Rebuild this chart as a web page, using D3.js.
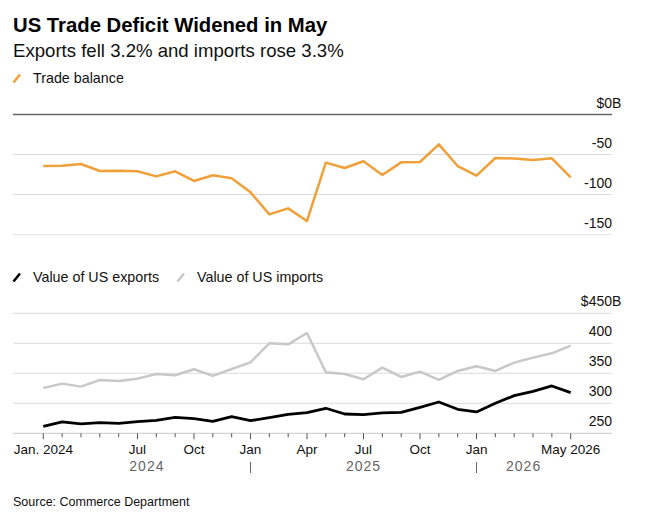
<!DOCTYPE html>
<html>
<head>
<meta charset="utf-8">
<script src="https://cdn.jsdelivr.net/npm/d3@7"></script>
<style>
  body { margin: 0; background: #fff; }
  svg { display: block; font-family: "Liberation Sans", Arial, sans-serif; }
  .tick-label { font-size: 14px; fill: #111; }
  .month { font-size: 13.5px; fill: #111; }
  .year { font-size: 14px; fill: #666; letter-spacing: 1px; }
</style>
</head>
<body>
<div id="chart"></div>
<script>
// month slots, Jan. 2024 .. May 2026 (29 points)
var monthLabels = ["Jan. 2024", "", "", "", "", "Jul", "", "", "Oct", "", "", "Jan",
    "", "", "Apr", "", "", "Jul", "", "", "Oct", "", "", "Jan", "", "", "", "", "May 2026"]
var majorTicks = [0, 5, 8, 11, 14, 17, 20, 23, 28]
var yearLabels = ["2024", "2025", "2026"]
var yearBreaks = [0, 11, 23, 28]

var tradeBalance = [-64.4, -64, -61.9, -70.6, -70.4, -71, -77.3, -71, -83.1, -76, -79.8, -97.3,
    -124.8, -117.3, -133.1, -60.2, -66.9, -58.5, -75.6, -59.8, -59.4, -37.3, -64.4, -76.5,
    -54.4, -55, -56.9, -54.8, -78.5]
var exportsVal = [261.7, 268.9, 265.6, 267.8, 266.7, 269.4, 271.7, 276.7, 274.4, 270, 277.8, 271.1,
    276.1, 281.7, 284.4, 291.7, 282.2, 281.1, 283.9, 285, 293.3, 302.2, 290, 285.6,
    300, 312.8, 320, 328.9, 317.8]
var importsVal = [325.6, 332.8, 327.8, 338.9, 337.2, 341.1, 348.9, 346.7, 356.7, 345.6, 357.2, 368.3,
    400, 398.3, 417.2, 351.7, 348.9, 340, 359.4, 343.9, 352.8, 338.9, 353.9, 361.7,
    353.9, 367.8, 376.1, 383.3, 396.1]

var balanceTicks = [0, -50, -100, -150]
var valueTicks = [450, 400, 350, 300, 250]

var ORANGE = "#f0a038", GRAY_LINE = "#c8c8c8", GRID = "#dcdcdc"
var width = 649, height = 518
var left = 13, right = 612

var svg = d3.select("#chart").append("svg")
    .attr("width", width)
    .attr("height", height)

// header
svg.append("text").attr("x", 13).attr("y", 32)
    .style("font-size", "20.3px").style("font-weight", "bold").style("fill", "#000")
    .text("US Trade Deficit Widened in May")
svg.append("text").attr("x", 13).attr("y", 57)
    .style("font-size", "18.6px").style("fill", "#111")
    .text("Exports fell 3.2% and imports rose 3.3%")

function legendItem(x, y, color, label) {
    svg.append("line")
        .attr("x1", x).attr("y1", y)
        .attr("x2", x + 6.5).attr("y2", y - 8)
        .attr("stroke", color).attr("stroke-width", 2.5)
    svg.append("text").attr("x", x + 19.5).attr("y", y)
        .style("font-size", "14.3px").style("fill", "#111")
        .text(label)
}
legendItem(13.5, 82.5, ORANGE, "Trade balance")
legendItem(13.5, 281.5, "#000", "Value of US exports")
legendItem(177.5, 281.5, GRAY_LINE, "Value of US imports")

var x = d3.scalePoint()
    .domain(d3.range(monthLabels.length))
    .range([43.3, 570.7])

// unit label: number right-aligned, "B" hanging past the grid
function valueLabel(y, value, withUnit) {
    var t = svg.append("text").attr("class", "tick-label")
        .attr("x", right).attr("y", y)
        .style("text-anchor", "end")
        .text(withUnit ? "$" + value : value)
    if (withUnit) {
        svg.append("text").attr("class", "tick-label")
            .attr("x", right).attr("y", y)
            .text("B")
    }
}

// ---- top panel: trade balance
var yTop = d3.scaleLinear().domain([-150, 0]).range([234.5, 114.5])

balanceTicks.forEach(function(v, i) {
    svg.append("line")
        .attr("x1", left).attr("x2", right)
        .attr("y1", yTop(v)).attr("y2", yTop(v))
        .attr("stroke", v === 0 ? "#666" : (v === -150 ? "#e6e6e6" : GRID))
        .attr("stroke-width", v === 0 ? 1.6 : 1)
    valueLabel(yTop(v) - 7, v, i === 0)
})

svg.append("path")
    .datum(tradeBalance)
    .attr("fill", "none")
    .attr("stroke", ORANGE)
    .attr("stroke-width", 2.5)
    .attr("stroke-linejoin", "round")
    .attr("d", d3.line().x((d, i) => x(i)).y(d => yTop(d)))

// ---- bottom panel: exports & imports
var yBot = d3.scaleLinear().domain([250, 450]).range([433.3, 313.3])

valueTicks.forEach(function(v, i) {
    svg.append("line")
        .attr("x1", left).attr("x2", right)
        .attr("y1", yBot(v)).attr("y2", yBot(v))
        .attr("stroke", v === 250 ? "#c8c8c8" : GRID)
        .attr("stroke-width", 1)
    valueLabel(yBot(v) - 7, v, i === 0)
})

var valueLine = d3.line().x((d, i) => x(i)).y(d => yBot(d))

svg.append("path")
    .datum(importsVal)
    .attr("fill", "none")
    .attr("stroke", GRAY_LINE)
    .attr("stroke-width", 2.5)
    .attr("stroke-linejoin", "round")
    .attr("d", valueLine)

svg.append("path")
    .datum(exportsVal)
    .attr("fill", "none")
    .attr("stroke", "#000")
    .attr("stroke-width", 2.8)
    .attr("stroke-linejoin", "round")
    .attr("d", valueLine)

// x axis ticks and labels
var axisY = yBot(250)
svg.selectAll(".xtick")
    .data(d3.range(monthLabels.length))
    .enter().append("line")
    .attr("class", "xtick")
    .attr("x1", d => x(d)).attr("x2", d => x(d))
    .attr("y1", axisY)
    .attr("y2", d => axisY + (majorTicks.indexOf(d) > -1 ? 6 : 4))
    .attr("stroke", "#555")
    .attr("stroke-width", 1)

svg.selectAll(".month")
    .data(monthLabels)
    .enter().append("text")
    .attr("class", "month")
    .attr("x", (d, i) => x(i))
    .attr("y", 454)
    .style("text-anchor", "middle")
    .text(d => d)

svg.selectAll(".year")
    .data(yearLabels)
    .enter().append("text")
    .attr("class", "year")
    .attr("x", (d, i) => (x(yearBreaks[i]) + x(yearBreaks[i + 1])) / 2)
    .attr("y", 470.5)
    .style("text-anchor", "middle")
    .text(d => d)

svg.selectAll(".year-sep")
    .data(yearBreaks.slice(1, -1))
    .enter().append("line")
    .attr("class", "year-sep")
    .attr("x1", d => x(d)).attr("x2", d => x(d))
    .attr("y1", 462).attr("y2", 473)
    .attr("stroke", "#666")
    .attr("stroke-width", 1)

svg.append("text").attr("x", 13).attr("y", 506)
    .style("font-size", "12.5px").style("fill", "#111")
    .text("Source: Commerce Department")
</script>
</body>
</html>
